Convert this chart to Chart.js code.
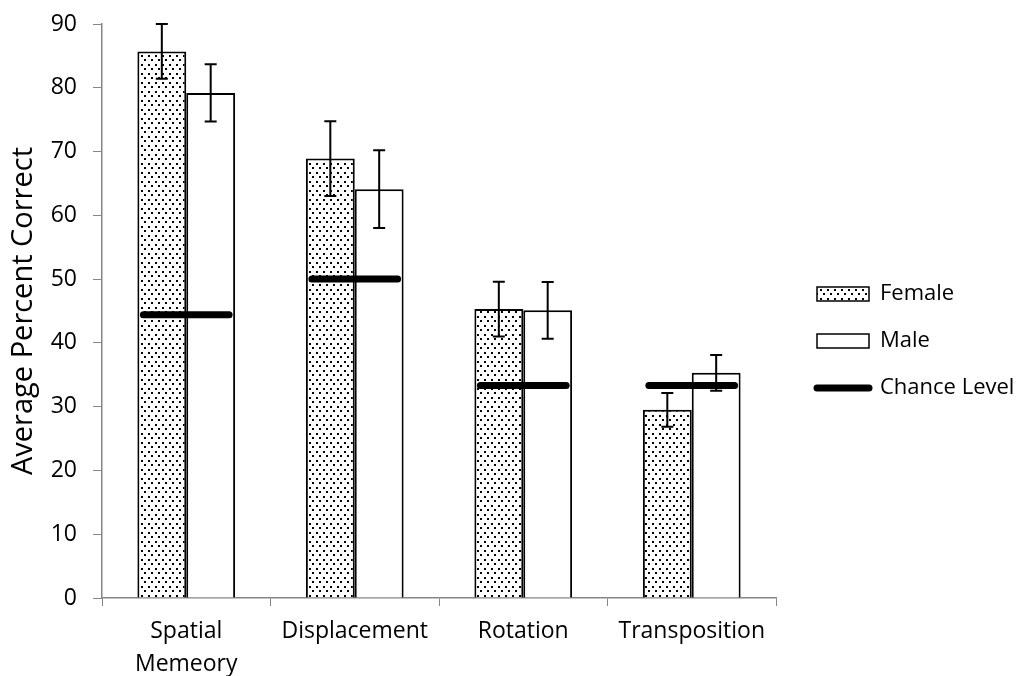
<!DOCTYPE html>
<html>
<head>
<meta charset="utf-8">
<script src="https://cdn.jsdelivr.net/npm/chart.js@4.4.1/dist/chart.umd.min.js"></script>
<style>
  html, body { margin: 0; padding: 0; background: #fff; }
  #wrap { width: 1019px; height: 676px; }
</style>
</head>
<body>
<div id="wrap"><canvas id="chart"></canvas></div>
<script>
// values
var categories = [['Spatial', 'Memeory'], 'Displacement', 'Rotation', 'Transposition'];
var femaleValues = [85.7, 68.9, 45.3, 29.5];
var femaleErrors = [4.3, 5.85, 4.3, 2.65];
var maleValues = [79.2, 64.1, 45.1, 35.3];
var maleErrors = [4.5, 6.1, 4.45, 2.8];
var chanceValues = [44.4, 50, 33.3, 33.3];
var yMin = 0, yMax = 90, yStep = 10;

var axisGrey = '#868686';
Chart.defaults.font.family = "'Open Sans', sans-serif";
Chart.defaults.color = '#000';

// dotted fill for the female bars
function dotPattern() {
    var c = document.createElement('canvas');
    c.width = 7;
    c.height = 9;
    var g = c.getContext('2d');
    g.fillStyle = '#fff';
    g.fillRect(0, 0, 7, 9);
    g.fillStyle = '#000';
    g.fillRect(1, 1, 2, 2);
    g.fillRect(4, 5, 2, 2);
    return g.createPattern(c, 'repeat');
}
var dots = dotPattern();

// error bars and the chance level segments
var overlayPlugin = {
    id: 'overlay',
    afterDatasetsDraw: function(chart) {
        var ctx = chart.ctx;
        var y = chart.scales.y;
        ctx.save();
        ctx.strokeStyle = '#000';
        ctx.lineWidth = 2;
        [[femaleValues, femaleErrors], [maleValues, maleErrors]].forEach(function(pair, i) {
            if (!chart.isDatasetVisible(i)) return;
            chart.getDatasetMeta(i).data.forEach(function(bar, j) {
                var top = y.getPixelForValue(pair[0][j] + pair[1][j]);
                var bottom = y.getPixelForValue(pair[0][j] - pair[1][j]);
                ctx.beginPath();
                ctx.moveTo(bar.x, top);
                ctx.lineTo(bar.x, bottom);
                ctx.moveTo(bar.x - 6, top);
                ctx.lineTo(bar.x + 6, top);
                ctx.moveTo(bar.x - 6, bottom);
                ctx.lineTo(bar.x + 6, bottom);
                ctx.stroke();
            });
        });

        if (chart.isDatasetVisible(2)) {
            var fem = chart.getDatasetMeta(0).data;
            var mal = chart.getDatasetMeta(1).data;
            ctx.lineWidth = 7;
            ctx.lineCap = 'round';
            chanceValues.forEach(function(v, j) {
                var x1 = fem[j].x - fem[j].width / 2 + 6;
                var x2 = mal[j].x + mal[j].width / 2 - 6;
                var py = y.getPixelForValue(v);
                ctx.beginPath();
                ctx.moveTo(x1, py);
                ctx.lineTo(x2, py);
                ctx.stroke();
            });
        }
        ctx.restore();
    }
};

new Chart(document.getElementById('chart'), {
    type: 'bar',
    data: {
        labels: categories,
        datasets: [{
            label: 'Female',
            data: femaleValues,
            backgroundColor: dots,
            borderColor: '#000',
            borderWidth: 2,
            categoryPercentage: 0.58,
            barPercentage: 1
        }, {
            label: 'Male',
            data: maleValues,
            backgroundColor: '#fff',
            borderColor: '#000',
            borderWidth: 2,
            categoryPercentage: 0.58,
            barPercentage: 1
        }, {
            type: 'line',
            label: 'Chance Level',
            data: chanceValues,
            showLine: false,
            pointRadius: 0,
            borderColor: '#000'
        }]
    },
    options: {
        responsive: true,
        maintainAspectRatio: false,
        animation: false,
        devicePixelRatio: 1,
        layout: { padding: { top: 6, left: 0, right: 0, bottom: 0 } },
        plugins: {
            tooltip: { enabled: false },
            legend: {
                position: 'right',
                maxWidth: 227,
                labels: {
                    usePointStyle: true,
                    pointStyleWidth: 52,
                    boxWidth: 52,
                    boxHeight: 14,
                    padding: 25,
                    font: { size: 22 },
                    color: '#000',
                    generateLabels: function(chart) {
                        return [
                            { text: 'Female', datasetIndex: 0, fillStyle: dots, strokeStyle: '#000', lineWidth: 1.5, pointStyle: 'rect', hidden: !chart.isDatasetVisible(0) },
                            { text: 'Male', datasetIndex: 1, fillStyle: '#fff', strokeStyle: '#000', lineWidth: 1.5, pointStyle: 'rect', hidden: !chart.isDatasetVisible(1) },
                            { text: 'Chance Level', datasetIndex: 2, fillStyle: '#000', strokeStyle: '#000', lineWidth: 7, lineCap: 'round', pointStyle: 'line', hidden: !chart.isDatasetVisible(2) }
                        ];
                    }
                }
            }
        },
        scales: {
            x: {
                grid: { drawOnChartArea: false, color: axisGrey, tickLength: 8 },
                border: { color: axisGrey, width: 1.5 },
                ticks: { font: { size: 23, lineHeight: 1.42 }, padding: 9, maxRotation: 0, autoSkip: false },
                afterFit: function(s) { s.height = 78; }
            },
            y: {
                min: yMin,
                max: yMax,
                grid: { drawOnChartArea: false, color: axisGrey, tickLength: 9 },
                border: { color: axisGrey, width: 1.5 },
                ticks: { stepSize: yStep, font: { size: 23 }, padding: 16 },
                title: {
                    display: true,
                    text: 'Average Percent Correct',
                    font: { size: 29 },
                    padding: { top: 6, bottom: 0 }
                },
                afterFit: function(s) { s.width = 102; s.paddingTop = 24; }
            },
            gap: {
                type: 'linear',
                position: 'right',
                display: true,
                grid: { display: false },
                border: { display: false },
                ticks: { display: false },
                afterFit: function(s) { s.width = 16; }
            }
        }
    },
    plugins: [overlayPlugin]
});
</script>
</body>
</html>
